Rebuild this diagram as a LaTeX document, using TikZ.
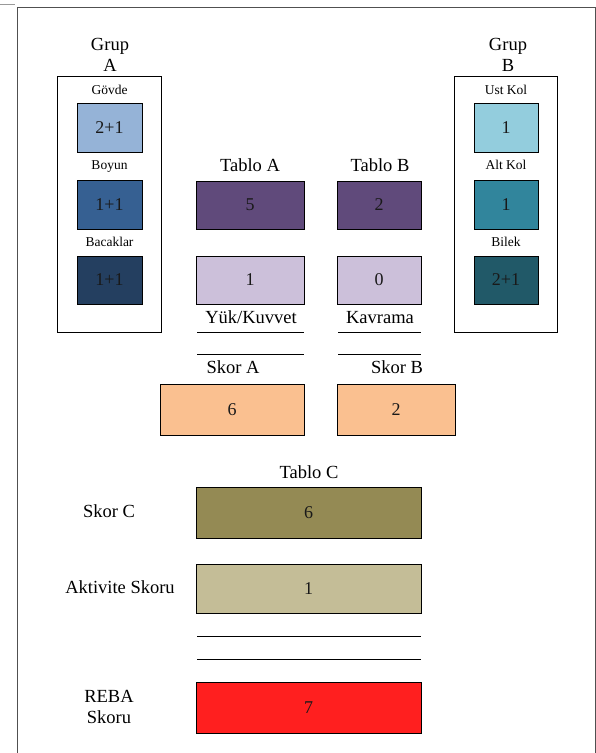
\documentclass[tikz,border=0pt]{standalone}
\usepackage{fontspec}
\setmainfont{Liberation Serif}
\definecolor{cGov}{HTML}{95B3D7}
\definecolor{cBoy}{HTML}{366092}
\definecolor{cBac}{HTML}{243F60}
\definecolor{cUst}{HTML}{93CDDD}
\definecolor{cAlt}{HTML}{31859C}
\definecolor{cBil}{HTML}{215968}
\definecolor{cPur}{HTML}{604A7B}
\definecolor{cLil}{HTML}{CCC0DA}
\definecolor{cOra}{HTML}{FAC090}
\definecolor{cOli}{HTML}{948A54}
\definecolor{cTan}{HTML}{C4BD97}
\definecolor{cRed}{HTML}{FF1F1F}
\definecolor{cFrame}{HTML}{505050}
\begin{document}
\begin{tikzpicture}[x=1pt,y=-1pt,
  box/.style={draw=black,line width=0.9pt,inner sep=0pt,font=\fontsize{18}{20}\selectfont,text=black!90},
  lbl/.style={inner sep=0pt,anchor=base,font=\fontsize{18.5}{22}\selectfont},
  slbl/.style={inner sep=0pt,anchor=base,font=\fontsize{13.5}{15}\selectfont},
  grp/.style={draw=black,line width=0.9pt},
  hline/.style={draw=black,line width=0.8pt}]
\useasboundingbox (0,0) rectangle (596,753);
\fill[white] (0,0) rectangle (596,753);
% page frame
\draw[cFrame,line width=0.9pt] (17,753) -- (17,7) -- (595,7) -- (595,753);
\draw[black!40,line width=0.6pt] (0,4) -- (15,4);

% Group A
\node[lbl] (gA1) at (110,50) {Grup};
\node[lbl] (gA2) at (110,71) {A};
\draw[grp] (57,76) rectangle (161,332);
\node[slbl] (lgov) at (109.5,94) {Gövde};
\node[box,fill=cGov,minimum width=65pt,minimum height=49pt] (gov) at (109.5,127.5) {2+1};
\node[slbl] (lboy) at (109.5,169) {Boyun};
\node[box,fill=cBoy,minimum width=65pt,minimum height=49pt] (boy) at (109.5,204.5) {1+1};
\node[slbl] (lbac) at (109.5,246) {Bacaklar};
\node[box,fill=cBac,minimum width=65pt,minimum height=48pt] (bac) at (109.5,280) {1+1};

% Group B
\node[lbl] (gB1) at (508,50) {Grup};
\node[lbl] (gB2) at (508,71) {B};
\draw[grp] (454,76) rectangle (557,332);
\node[slbl] (lust) at (506,94) {Ust Kol};
\node[box,fill=cUst,minimum width=64pt,minimum height=49pt] (ust) at (506,127.5) {1};
\node[slbl] (lalt) at (506,169) {Alt Kol};
\node[box,fill=cAlt,minimum width=64pt,minimum height=49pt] (alt) at (506,204.5) {1};
\node[slbl] (lbil) at (506,246) {Bilek};
\node[box,fill=cBil,minimum width=64pt,minimum height=48pt] (bil) at (506,280) {2+1};

% Tables A, B
\node[lbl] (lta) at (250,171) {Tablo A};
\node[box,fill=cPur,minimum width=108pt,minimum height=48pt] (ta) at (250,205) {5};
\node[lbl] (ltb) at (380,171) {Tablo B};
\node[box,fill=cPur,minimum width=84pt,minimum height=48pt] (tb) at (379,205) {2};
\node[box,fill=cLil,minimum width=108pt,minimum height=48pt] (yk) at (250,280) {1};
\node[box,fill=cLil,minimum width=84pt,minimum height=48pt] (kv) at (379,280) {0};
\node[lbl] (lyk) at (251,323) {Yük/Kuvvet};
\node[lbl] (lkv) at (380,323) {Kavrama};

\coordinate (a1l) at (197,332); \coordinate (a1r) at (304,332);
\coordinate (a2l) at (197,354); \coordinate (a2r) at (304,354);
\coordinate (b1l) at (338,332); \coordinate (b1r) at (421,332);
\coordinate (b2l) at (338,354); \coordinate (b2r) at (421,354);
\draw[hline] (a1l) -- (a1r);
\draw[hline] (a2l) -- (a2r);
\draw[hline] (b1l) -- (b1r);
\draw[hline] (b2l) -- (b2r);

\node[lbl] (lsa) at (233,373) {Skor A};
\node[lbl] (lsb) at (397,373) {Skor B};
\node[box,fill=cOra,minimum width=144pt,minimum height=51pt] (sa) at (232,409.5) {6};
\node[box,fill=cOra,minimum width=118pt,minimum height=51pt] (sb) at (396,409.5) {2};

% Table C
\node[lbl] (ltc) at (309,478) {Tablo C};
\node[box,fill=cOli,minimum width=225pt,minimum height=51pt] (sc) at (308.5,512.5) {6};
\node[lbl] (lsc) at (109,517) {Skor C};
\node[box,fill=cTan,minimum width=225pt,minimum height=49pt] (ak) at (308.5,588.5) {1};
\node[lbl] (lak) at (120,593) {Aktivite Skoru};

\coordinate (c1l) at (197,636); \coordinate (c1r) at (421,636);
\coordinate (c2l) at (197,659); \coordinate (c2r) at (421,659);
\draw[hline] (c1l) -- (c1r);
\draw[hline] (c2l) -- (c2r);

\node[box,fill=cRed,minimum width=225pt,minimum height=51pt] (reba) at (308.5,707.5) {7};
\node[lbl] (lreba1) at (109,702) {REBA};
\node[lbl] (lreba2) at (109,723) {Skoru};
\end{tikzpicture}
\end{document}
